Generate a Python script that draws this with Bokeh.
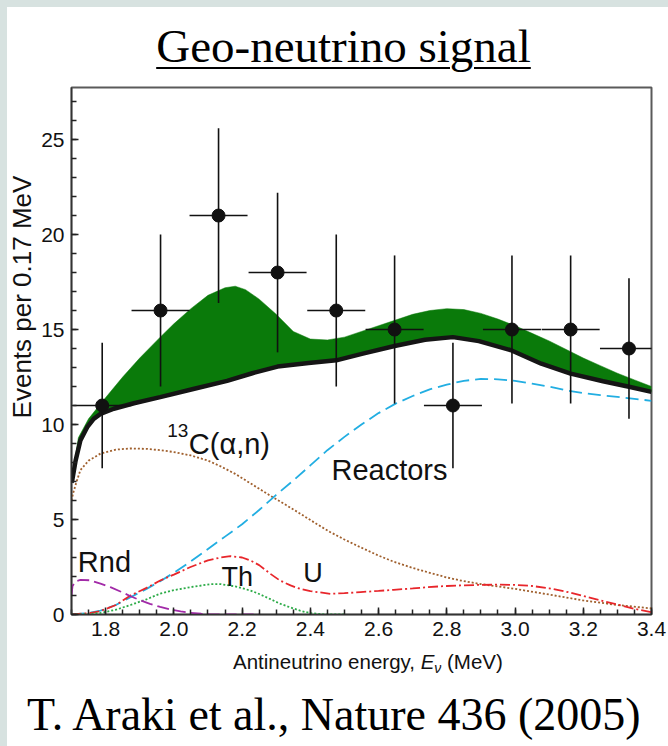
import numpy as np
from bokeh.plotting import figure
from bokeh.models import Range1d, FixedTicker, SingleIntervalTicker, PrintfTickFormatter, Label, Div, Spacer
from bokeh.layouts import column, row
from bokeh.embed import file_html
from bokeh.resources import INLINE

# ---------------- data ----------------
# measured points (bins of 0.17 MeV)
pt_x = [1.790, 1.961, 2.131, 2.304, 2.476, 2.647, 2.818, 2.991, 3.163, 3.334]
pt_y = [11, 16, 21, 18, 16, 15, 11, 15, 15, 14]
pt_err = [3.3, 4.0, 4.6, 4.2, 4.0, 3.9, 3.3, 3.9, 3.9, 3.7]
bin_width = 0.17

# total expected background (thick black)
bg_x = [1.700, 1.702, 1.712, 1.726, 1.746, 1.765, 1.785, 1.824, 1.883, 1.960, 2.060,
        2.156, 2.230, 2.304, 2.395, 2.476, 2.554, 2.647, 2.736, 2.818, 2.894, 2.990,
        3.077, 3.163, 3.258, 3.334, 3.400]
bg_y = [6.95, 7.05, 8.10, 9.16, 9.86, 10.30, 10.56, 10.83, 11.12, 11.44, 11.88,
        12.30, 12.70, 13.05, 13.24, 13.38, 13.73, 14.13, 14.46, 14.60, 14.39, 13.90,
        13.20, 12.68, 12.28, 11.99, 11.72]

# background + geo-neutrinos (top of green band)
tot_x = [1.720, 1.750, 1.790, 1.850, 1.900, 1.960, 2.000, 2.050, 2.100, 2.150, 2.180,
         2.210, 2.250, 2.300, 2.350, 2.400, 2.450, 2.500, 2.550, 2.600, 2.650, 2.700,
         2.750, 2.800, 2.850, 2.900, 2.950, 3.000, 3.050, 3.100, 3.150, 3.200, 3.250,
         3.300, 3.350, 3.400]
tot_y = [9.30, 10.30, 11.20, 12.50, 13.50, 14.60, 15.30, 16.10, 16.80, 17.20, 17.28,
         17.10, 16.60, 15.80, 14.90, 14.50, 14.45, 14.60, 14.90, 15.20, 15.50, 15.80,
         16.00, 16.10, 16.05, 15.85, 15.55, 15.20, 14.80, 14.40, 13.95, 13.50, 13.10,
         12.70, 12.35, 12.00]

# reactors (blue dashed)
re_x = [1.700, 1.750, 1.785, 1.830, 1.873, 1.920, 1.960, 2.000, 2.050, 2.100, 2.150,
        2.200, 2.250, 2.300, 2.350, 2.400, 2.450, 2.500, 2.550, 2.600, 2.650, 2.700,
        2.750, 2.800, 2.850, 2.900, 2.950, 3.000, 3.050, 3.100, 3.150, 3.200, 3.250,
        3.300, 3.350, 3.400]
re_y = [0.00, 0.08, 0.20, 0.50, 0.91, 1.35, 1.75, 2.20, 2.80, 3.45, 4.10,
        4.75, 5.50, 6.30, 7.05, 7.85, 8.65, 9.35, 10.00, 10.60, 11.10, 11.50,
        11.85, 12.10, 12.30, 12.40, 12.38, 12.30, 12.15, 12.00, 11.80, 11.65, 11.55,
        11.45, 11.35, 11.25]

# 13C(alpha,n) (brown dotted)
ca_x = [1.700, 1.705, 1.715, 1.726, 1.750, 1.785, 1.830, 1.873, 1.920, 1.960, 2.000,
        2.050, 2.100, 2.137, 2.180, 2.225, 2.283, 2.330, 2.371, 2.420, 2.459, 2.500,
        2.547, 2.600, 2.644, 2.700, 2.743, 2.800, 2.840, 2.900, 3.000, 3.100, 3.200,
        3.300, 3.400]
ca_y = [6.00, 6.40, 7.00, 7.60, 8.10, 8.47, 8.68, 8.74, 8.72, 8.65, 8.55,
        8.37, 8.10, 7.80, 7.40, 6.90, 6.25, 5.75, 5.30, 4.75, 4.33, 3.95,
        3.54, 3.10, 2.78, 2.45, 2.23, 1.95, 1.79, 1.60, 1.35, 1.05, 0.74,
        0.50, 0.32]

# U (red dash-dot)
u_x = [1.700, 1.750, 1.785, 1.830, 1.873, 1.920, 1.960, 2.000, 2.049, 2.100, 2.137,
       2.166, 2.200, 2.225, 2.250, 2.283, 2.310, 2.342, 2.370, 2.400, 2.459, 2.500,
       2.547, 2.600, 2.644, 2.700, 2.743, 2.800, 2.840, 2.900, 2.950, 3.000, 3.050,
       3.100, 3.150, 3.200, 3.250, 3.300, 3.350, 3.400]
u_y = [0.00, 0.07, 0.18, 0.50, 1.00, 1.40, 1.79, 2.10, 2.50, 2.85, 3.00,
       3.07, 3.00, 2.84, 2.60, 2.14, 1.80, 1.53, 1.35, 1.23, 1.09, 1.12,
       1.18, 1.24, 1.30, 1.37, 1.44, 1.50, 1.53, 1.56, 1.57, 1.56, 1.50,
       1.38, 1.20, 0.98, 0.75, 0.52, 0.30, 0.12]

# Th (green dotted)
th_x = [1.700, 1.750, 1.785, 1.830, 1.873, 1.920, 1.960, 2.000, 2.049, 2.108, 2.137,
        2.180, 2.225, 2.250, 2.283, 2.310, 2.342, 2.370, 2.400, 2.440, 2.500]
th_y = [0.00, 0.02, 0.08, 0.25, 0.50, 0.80, 1.10, 1.28, 1.44, 1.60, 1.60,
        1.48, 1.26, 1.08, 0.81, 0.58, 0.37, 0.20, 0.07, 0.01, 0.00]

# random coincidences (purple dashed)
rn_x = [1.700, 1.703, 1.712, 1.726, 1.755, 1.785, 1.814, 1.845, 1.873, 1.900, 1.930,
        1.960, 1.990, 2.020, 2.049, 2.080, 2.108, 2.150, 2.250]
rn_y = [1.00, 1.50, 1.75, 1.82, 1.80, 1.62, 1.44, 1.20, 0.96, 0.76, 0.56,
        0.40, 0.26, 0.16, 0.09, 0.04, 0.01, 0.00, 0.00]

# axis ticks
x_ticks = [1.8, 2.0, 2.2, 2.4, 2.6, 2.8, 3.0, 3.2, 3.4]
x_minor = [round(1.70 + 0.05 * i, 2) for i in range(35)]

# ---------------- figure ----------------
SANS = "Liberation Sans"

p = figure(width=631, height=574, x_range=Range1d(1.7, 3.4), y_range=Range1d(0, 27.74),
           output_backend="svg", toolbar_location=None, margin=0,
           min_border_left=34, min_border_right=17, min_border_top=7, min_border_bottom=40)
p.grid.visible = False
p.background_fill_color = "white"
p.border_fill_color = "white"
p.outline_line_color = "#5a5a5a"
p.outline_line_width = 2

p.xaxis.ticker = FixedTicker(ticks=x_ticks, minor_ticks=x_minor)
p.xaxis.formatter = PrintfTickFormatter(format="%.1f")
p.yaxis.ticker = SingleIntervalTicker(interval=5, num_minor_ticks=5)
for ax in (p.xaxis, p.yaxis):
    ax.axis_line_color = "#333333"
    ax.axis_line_width = 1.5
    ax.major_tick_in = 7
    ax.major_tick_out = 0
    ax.minor_tick_in = 5
    ax.minor_tick_out = 0
    ax.major_tick_line_color = "#222222"
    ax.minor_tick_line_color = "#222222"
    ax.major_tick_line_width = 1.5
    ax.minor_tick_line_width = 1.5
    ax.major_label_text_font = SANS
    ax.major_label_text_font_size = "21px"
    ax.major_label_text_color = "#111111"
    ax.major_label_standoff = 7

# green band between background and background+geo
band_x = list(tot_x) + list(bg_x[::-1])
band_y = list(tot_y) + list(bg_y[::-1])
p.patch(band_x, band_y, fill_color="#0a7a0a", line_color="#0a7a0a", line_width=0.5)

# component curves
p.line(ca_x, ca_y, line_color="#a0602e", line_width=1.8, line_dash="2 2")
p.line(re_x, re_y, line_color="#22aee2", line_width=1.8, line_dash="13 6")
p.line(u_x, u_y, line_color="#e8262b", line_width=1.8, line_dash="10 3 2 3")
p.line(th_x, th_y, line_color="#2bab47", line_width=1.8, line_dash="2 2")
p.line(rn_x, rn_y, line_color="#a22aa8", line_width=1.8, line_dash="12 5")

# total background
p.line(bg_x, bg_y, line_color="#151515", line_width=4.5)

# data points with error bars
px = np.array(pt_x)
py = np.array(pt_y, dtype=float)
pe = np.array(pt_err)
p.segment(x0=px, y0=py - pe, x1=px, y1=py + pe, line_color="#111111", line_width=1.6)
p.segment(x0=px - bin_width / 2, y0=py, x1=px + bin_width / 2, y1=py,
          line_color="#111111", line_width=1.6)
p.scatter(px, py, size=13, color="#111111")

# in-plot labels
def lab(x, y, text, size):
    p.add_layout(Label(x=x, y=y, text=text, text_font=SANS, text_font_size=size,
                       text_color="#111111", text_baseline="alphabetic"))

lab(1.9805, 9.70, "13", "19px")
lab(2.0438, 9.00, "C(\u03b1,n)", "29px")
lab(2.462, 7.59, "Reactors", "29px")
lab(1.7185, 2.77, "Rnd", "29px")
lab(2.1396, 1.98, "Th", "27px")
lab(2.379, 2.16, "U", "27px")

# ---------------- page layout ----------------
title_div = Div(
    text='<div style="display:block;box-sizing:border-box;width:661px;'
         'font-family:\'Liberation Serif\',serif;'
         'font-size:47px;line-height:47px;padding-top:16px;padding-left:12px;text-align:center;'
         'color:#000;text-decoration:underline;text-decoration-thickness:2px;'
         'text-underline-offset:5px;white-space:nowrap;">Geo-neutrino signal</div>',
    width=661, height=73, margin=0, styles={"background-color": "white"})

ylab_div = Div(
    text='<div style="width:434px;height:30px;line-height:30px;text-align:center;'
         'white-space:nowrap;font-family:\'Liberation Sans\',Arial,sans-serif;font-size:26px;'
         'color:#111;transform-origin:0 0;transform:translate(0px,434px) rotate(-90deg);">'
         'Events per 0.17 MeV</div>',
    width=30, height=574, margin=0, styles={"background-color": "white"})

xlab_div = Div(
    text='<div style="padding-left:226px;line-height:15px;white-space:nowrap;'
         'font-family:\'Liberation Sans\',Arial,sans-serif;font-size:20.5px;color:#111;">'
         'Antineutrino energy, <i>E</i><i style="font-size:14px;position:relative;top:4px;">'
         '\u03bd</i> (MeV)</div>',
    width=661, height=26, margin=0, styles={"background-color": "white"})

cite_div = Div(
    text='<div style="font-family:\'Liberation Serif\',serif;font-size:46px;line-height:46px;'
         'padding-top:12px;padding-left:20px;color:#000;white-space:nowrap;">'
         'T. Araki et al., Nature 436 (2005)</div>',
    width=661, height=66, margin=0, styles={"background-color": "white"})

middle = row(ylab_div, p, margin=0, spacing=0)
inner = column(title_div, middle, xlab_div, cite_div, margin=0, spacing=0,
               styles={"background-color": "white"})
page = column(Spacer(width=668, height=7, margin=0),
              row(Spacer(width=7, height=739, margin=0), inner, margin=0, spacing=0),
              margin=0, spacing=0, width=668, height=746,
              styles={"background-color": "#d7e2e0"})

open("out.html", "w").write(file_html(page, INLINE))
